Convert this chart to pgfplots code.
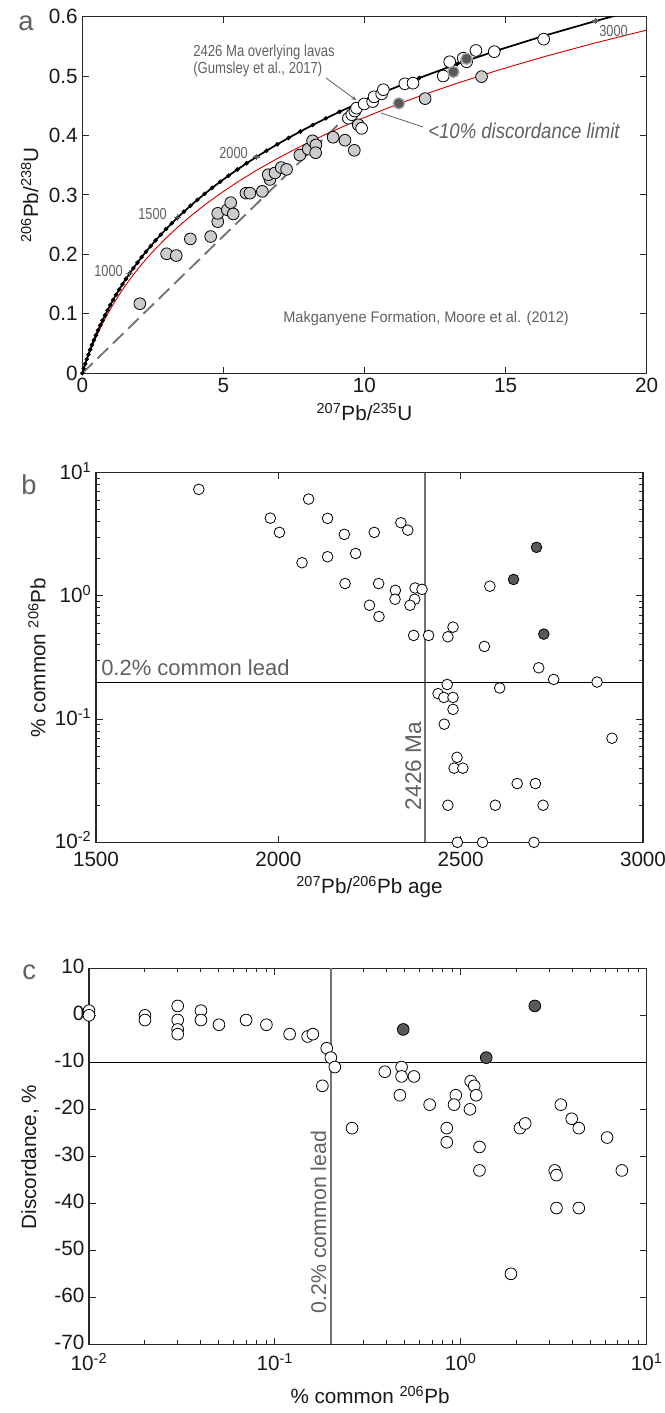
\documentclass[border=0pt]{standalone}
\usepackage{pgfplots}
\pgfplotsset{compat=1.18}
\usepackage{fontspec}
\setmainfont{Liberation Sans}
\usepackage{graphicx}
\definecolor{txtgray}{gray}{0.38}
\definecolor{linegray}{gray}{0.45}
\definecolor{ptgray}{gray}{0.8}
\definecolor{ptdark}{gray}{0.35}
\newcommand{\fs}[1]{\fontsize{#1}{#1}\selectfont}
\pgfplotsset{
  myax/.style={scale only axis, anchor=south west,
    axis line style={line width=0.9pt, black!85},
    tick style={line width=0.7pt, black!85},
    tick align=inside, major tick length=5pt, minor tick length=3pt,
    tick label style={font=\fs{15.5}, black!90},
    label style={font=\fs{15.5}, black!90},
    /pgf/number format/assume math mode=true},
  wc/.style={only marks, mark=*, mark size=4.2pt, mark options={fill=white, draw=black, line width=0.6pt}},
  gc/.style={only marks, mark=*, mark size=4.4pt, mark options={fill=ptgray, draw=black, line width=0.6pt}},
  dc/.style={only marks, mark=*, mark size=4.2pt, mark options={fill=ptdark, draw=black, line width=0.6pt}},
}
\begin{document}
\begin{tikzpicture}
\useasboundingbox (0,0) rectangle (498pt,1059.75pt);
\fill[white] (0,0) rectangle (498pt,1059.75pt);

% ---------------- panel a ----------------
\begin{axis}[myax, at={(61.7pt,779.8pt)}, width=423.3pt, height=267.5pt,
  xmin=0, xmax=20, ymin=0, ymax=0.6,
  xtick={0,5,10,15,20}, xticklabels={0,5,10,15,20},
  ytick={0,0.1,0.2,0.3,0.4,0.5,0.6}, yticklabels={0,0.1,0.2,0.3,0.4,0.5,0.6},
  xlabel={\textsuperscript{207}Pb/\textsuperscript{235}U},
  ylabel={\textsuperscript{206}Pb/\textsuperscript{238}U},
  xlabel style={at={(axis description cs:0.5,-0.108)}, anchor=center},
  ylabel style={at={(axis description cs:-0.093,0.5)}, anchor=center}]
% discordia to origin
\addplot[linegray, line width=1.4pt, dash pattern=on 11pt off 5pt] coordinates {(0,0) (9.9053,0.45692)};
% 10% discordance limit
\addplot[red!85!black, line width=0.7pt] coordinates {
(0,0)(0.10350,0.014664)(0.21770,0.029557)(0.34375,0.044684)(0.48280,0.060047)(0.63623,0.075650)
(0.80560,0.091496)(0.99253,0.107589)(1.19880,0.123938)(1.42640,0.140541)(1.67750,0.157396)
(1.95454,0.174515)(2.26030,0.191905)(2.59770,0.209568)(2.97005,0.227512)(3.38090,0.245728)
(3.83436,0.264235)(4.33467,0.283032)(4.88680,0.302120)(5.49608,0.321509)(6.16839,0.341198)
(6.91030,0.361196)(7.72898,0.381503)(8.63245,0.402130)(9.62936,0.423085)(10.72942,0.444368)
(11.94340,0.465970)(13.28300,0.487919)(14.76126,0.510216)(16.39251,0.532859)(18.19263,0.555859)
(20,0.57725)};
% concordia
\addplot[black, line width=1.3pt, mark=*, mark size=0.9pt] coordinates {
(0,0)(0.05048,0.007786)(0.10350,0.015633)(0.15919,0.023542)(0.21770,0.031511)(0.27918,0.039543)
(0.34375,0.047637)(0.41155,0.055795)(0.48280,0.064016)(0.55762,0.072300)(0.63623,0.080650)
(0.71884,0.089064)(0.80560,0.097544)(0.89672,0.106090)(0.99253,0.11470)(1.09300,0.123383)
(1.19880,0.13213)(1.30961,0.140945)(1.42640,0.14983)(1.54878,0.158782)(1.67750,0.16780)
(1.81258,0.176899)(1.95454,0.18605)(2.10367,0.195297)(2.26030,0.20459)(2.42489,0.213983)
(2.59770,0.22342)(2.77934,0.232962)(2.97005,0.24255)(3.17051,0.252237)(3.38090,0.26197)
(3.60218,0.271812)(3.83436,0.28170)(4.07848,0.291695)(4.33467,0.30174)(4.60407,0.311889)
(4.88680,0.32209)(5.18406,0.332399)(5.49608,0.34276)(5.82413,0.353231)(6.16839,0.36375)
(6.53031,0.374388)(6.91030,0.38507)(7.30965,0.395875)(7.72898,0.40672)(8.16960,0.417698)
(8.63245,0.42871)(9.11861,0.439862)(9.62936,0.45105)(10.16583,0.462371)(10.72942,0.47374)
(11.94340,0.49677)(13.28300,0.52017)(14.76126,0.54394)(16.39251,0.56808)(18.19263,0.59260)
(19.16190,0.60501)};
% age markers
\addplot[only marks, mark=+, mark size=2.6pt, txtgray, line width=0.9pt] coordinates {
(1.6775,0.1678)(3.3809,0.26197)(6.16839,0.36375)(18.19263,0.5926)};
% grey data
\addplot[gc] coordinates {
(2.04,0.117)(2.99,0.201)(3.33,0.198)(3.83,0.226)(4.55,0.230)(4.80,0.255)(4.80,0.269)
(5.14,0.275)(5.26,0.287)(5.35,0.268)(5.80,0.303)(5.94,0.303)(6.38,0.306)(6.65,0.326)
(6.59,0.334)(6.83,0.337)(7.05,0.346)(7.24,0.343)(7.71,0.367)(8.01,0.377)(8.16,0.391)
(8.28,0.384)(8.27,0.371)(8.89,0.397)(9.31,0.392)(9.64,0.375)(9.78,0.418)(12.15,0.462)
(14.15,0.499)};
% white data
\addplot[wc, mark size=4.4pt] coordinates {
(9.43,0.429)(9.55,0.435)(9.66,0.441)(9.72,0.446)(9.90,0.412)(9.99,0.453)(10.29,0.457)
(10.34,0.465)(10.61,0.470)(10.67,0.477)(11.43,0.487)(11.72,0.488)(12.79,0.500)(13.02,0.524)
(13.50,0.530)(13.62,0.524)(13.95,0.543)(14.60,0.541)(16.35,0.562)};
% dark data
\addplot[only marks, mark=*, mark size=4.2pt, mark options={fill=ptdark, draw=black!35, line width=1pt}] coordinates {
(11.22,0.454)(13.15,0.507)(13.62,0.529)};
\end{axis}

% ---------------- panel b ----------------
\begin{axis}[myax, at={(72pt,428pt)}, width=410.25pt, height=277.2pt,
  xmin=1500, xmax=3000, ymode=log, ymin=0.01, ymax=10,
  xtick={1500,2000,2500,3000}, xticklabels={1500,2000,2500,3000},
  xticklabel style={yshift=-3.5pt},
  yticklabel style={yshift=1.5pt},
  ytick={0.01,0.1,1,10},
  yticklabels={10\textsuperscript{-2},10\textsuperscript{-1},10\textsuperscript{0},10\textsuperscript{1}},
  minor ytick={0.02,0.03,0.04,0.05,0.06,0.07,0.08,0.09,0.2,0.3,0.4,0.5,0.6,0.7,0.8,0.9,2,3,4,5,6,7,8,9},
  xlabel={\textsuperscript{207}Pb/\textsuperscript{206}Pb age},
  ylabel={\% common \textsuperscript{206}Pb},
  xlabel style={at={(axis description cs:0.5,-0.121)}, anchor=center},
  ylabel style={at={(axis description cs:-0.108,0.5)}, anchor=center},
  clip=false]
\draw[linegray, line width=1pt] (axis cs:2402,0.01) -- (axis cs:2402,10);
\draw[black, line width=0.7pt] (axis cs:1500,0.2) -- (axis cs:3000,0.2);
\addplot[wc, mark size=4pt] coordinates {
(1782,7.33)(2083,6.11)(1978,4.28)(2003,3.28)(2065,1.86)(2135,4.26)(2135,2.08)(2181,3.16)
(2263,3.28)(2336,3.93)(2355,3.42)(2212,2.21)(2183,1.26)(2275,1.26)(2321,1.11)(2320,0.94)
(2375,1.16)(2394,1.13)(2374,0.94)(2361,0.84)(2250,0.84)(2276,0.68)(2371,0.478)(2412,0.478)
(2465,0.466)(2479,0.558)(2565,0.389)(2580,1.20)(2714,0.261)(2755,0.210)(2874,0.20)(2607,0.179)
(2463,0.191)(2438,0.161)(2454,0.150)(2479,0.150)(2479,0.120)(2455,0.091)(2915,0.070)
(2490,0.049)(2482,0.040)(2506,0.040)(2655,0.030)(2705,0.030)(2465,0.020)(2595,0.020)
(2726,0.020)(2491,0.010)(2560,0.010)(2701,0.010)};
\addplot[dc, mark size=4pt] coordinates {(2708,2.48)(2645,1.36)(2728,0.49)};
\end{axis}

% ---------------- panel c ----------------
\begin{axis}[myax, at={(66.75pt,51.5pt)}, width=418.3pt, height=282pt,
  xmode=log, xmin=0.01, xmax=10, ymin=-70, ymax=10,
  xtick={0.01,0.1,1,10},
  xticklabels={10\textsuperscript{-2},10\textsuperscript{-1},10\textsuperscript{0},10\textsuperscript{1}},
  xticklabel style={yshift=-3.5pt},
  yticklabel style={yshift=1.5pt},
  minor xtick={0.02,0.03,0.04,0.05,0.06,0.07,0.08,0.09,0.2,0.3,0.4,0.5,0.6,0.7,0.8,0.9,2,3,4,5,6,7,8,9},
  ytick={-70,-60,-50,-40,-30,-20,-10,0,10},
  yticklabels={-70,-60,-50,-40,-30,-20,-10,0,10},
  xlabel={\% common \textsuperscript{206}Pb},
  ylabel={Discordance, \%},
  xlabel style={at={(axis description cs:0.504,-0.135)}, anchor=center},
  ylabel style={at={(axis description cs:-0.106,0.498)}, anchor=center},
  clip=false]
\draw[linegray, line width=1pt] (axis cs:0.2,-70) -- (axis cs:0.2,10);
\draw[black, line width=0.7pt] (axis cs:0.01,-10) -- (axis cs:10,-10);
\addplot[wc, mark size=4.4pt] coordinates {
(0.01,1)(0.01,0)(0.02,0)(0.02,-1)(0.03,2)(0.03,-1)(0.03,-3)(0.03,-4)(0.04,1)(0.04,-1)
(0.05,-2)(0.07,-1)(0.09,-2)(0.12,-4)(0.15,-4.5)(0.16,-4)(0.19,-7)(0.2,-9)(0.21,-11)
(0.18,-15)(0.26,-24)(0.39,-12)(0.48,-11)(0.48,-13)(0.56,-13)(0.47,-17)(0.68,-19)
(0.84,-24)(0.84,-27)(0.94,-17)(0.92,-19)(1.13,-14)(1.18,-15)(1.21,-17)(1.12,-20)
(1.26,-28)(1.26,-33)(2.08,-24)(2.22,-23)(3.45,-19)(3.95,-22)(4.31,-24)(6.12,-26)
(3.20,-33)(3.27,-34)(7.35,-33)(3.27,-41)(4.31,-41)(1.86,-55)};
\addplot[dc, mark size=4.4pt] coordinates {(0.49,-3)(1.37,-9)(2.5,2)};
\end{axis}

% ---------------- annotations (pixel frame) ----------------
\begin{scope}[x=0.75pt, y=-0.75pt, yshift=1059.75pt]
\node[anchor=base west, inner sep=0, txtgray, font=\fs{20.5}] at (18,31) {a};
\node[anchor=base west, inner sep=0, txtgray, font=\fs{20.5}] at (21,495) {b};
\node[anchor=base west, inner sep=0, txtgray, font=\fs{20.5}] at (22,980) {c};
% panel a texts
\node[anchor=base west, inner sep=0, txtgray, font=\fs{12}] at (193,57) {\scalebox{0.82}[1]{2426 Ma overlying lavas}};
\node[anchor=base west, inner sep=0, txtgray, font=\fs{12}] at (193,74) {\scalebox{0.82}[1]{(Gumsley et al., 2017)}};
\draw[txtgray, line width=0.6pt, -stealth] (326,78) -- (356,100);
\node[anchor=base west, inner sep=0, txtgray, font=\fs{16}\itshape] at (428,139) {\scalebox{0.87}[1]{<10\% discordance limit}};
\draw[txtgray, line width=0.6pt] (381,113) -- (423,127);
\node[anchor=base west, inner sep=0, txtgray, font=\fs{11.5}] at (283,323) {\scalebox{0.95}[1]{Makganyene Formation, Moore et al. (2012)}};
\node[anchor=base west, inner sep=0, txtgray, font=\fs{12}] at (94,277) {\scalebox{0.8}[1]{1000}};
\node[anchor=base west, inner sep=0, txtgray, font=\fs{12}] at (138,220) {\scalebox{0.8}[1]{1500}};
\node[anchor=base west, inner sep=0, txtgray, font=\fs{12}] at (219,159) {\scalebox{0.8}[1]{2000}};
\node[anchor=base west, inner sep=0, txtgray, font=\fs{12}] at (599,37) {\scalebox{0.8}[1]{3000}};
% panel b texts
\node[anchor=base west, inner sep=0, txtgray, font=\fs{16.5}] at (101,676) {0.2\% common lead};
\node[anchor=base, inner sep=0, txtgray, font=\fs{17}, rotate=90] at (421,766) {2426 Ma};
% panel c texts
\node[anchor=base, inner sep=0, txtgray, font=\fs{16}, rotate=90] at (326,1222) {0.2\% common lead};
\end{scope}
\end{tikzpicture}
\end{document}
